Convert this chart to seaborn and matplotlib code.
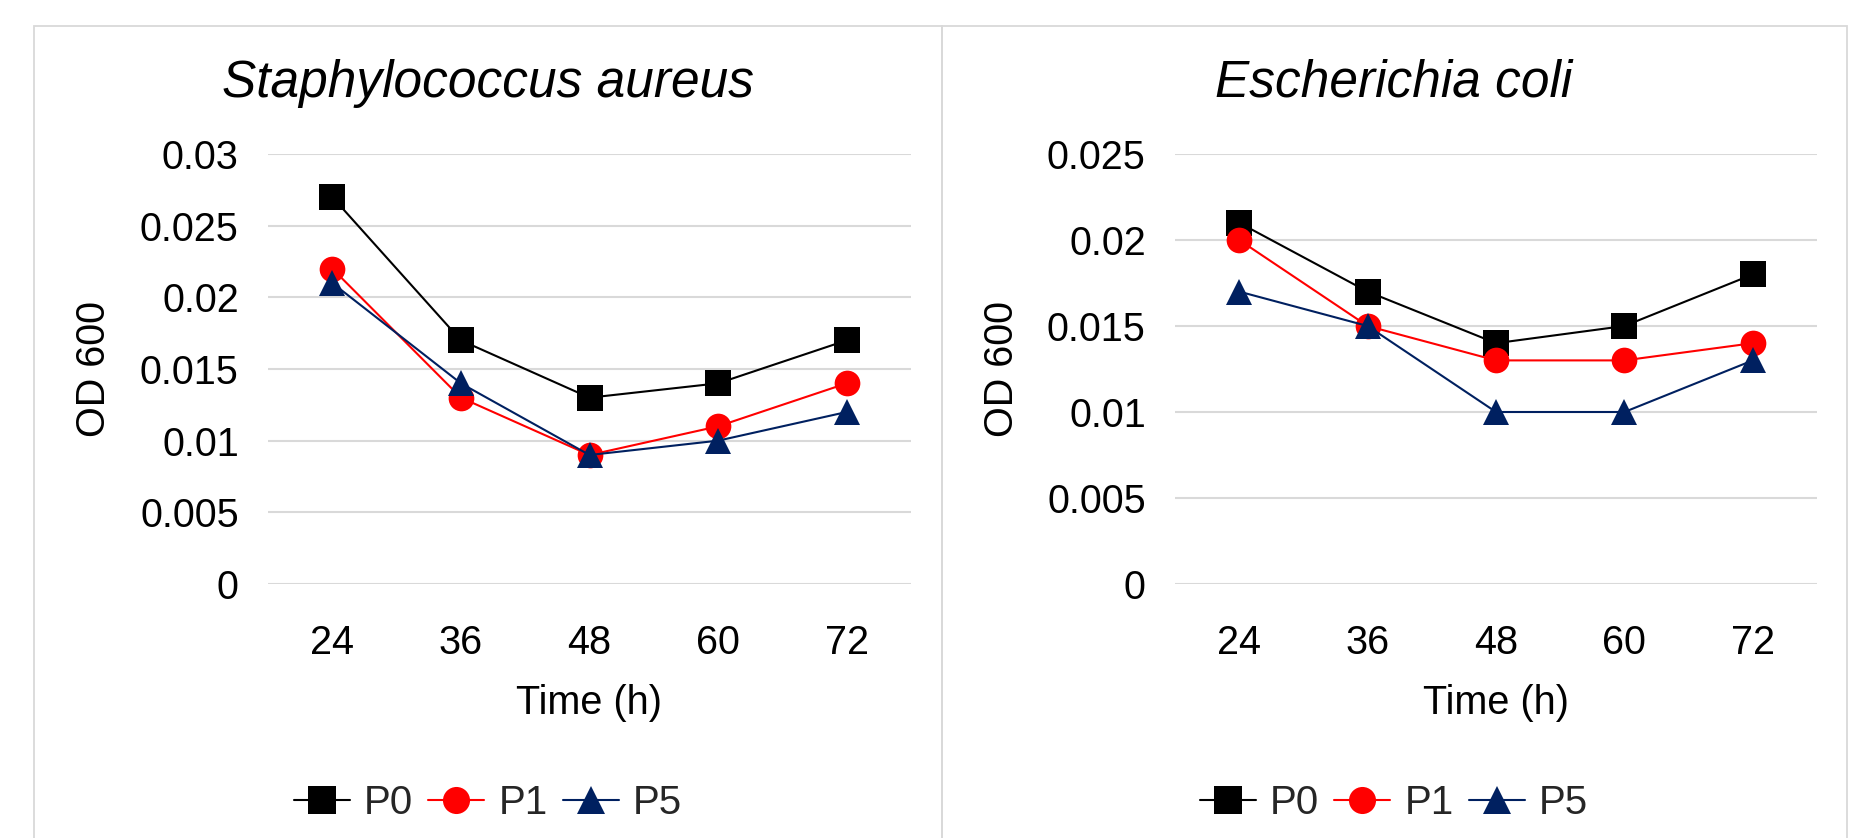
import matplotlib
matplotlib.use("Agg")
import matplotlib.pyplot as plt
import seaborn as sns
import pandas as pd
from matplotlib.lines import Line2D
from matplotlib.patches import Rectangle
from matplotlib.ticker import FuncFormatter, MultipleLocator

# ---- data ----
times = ["24", "36", "48", "60", "72"]
series_names = ["P0", "P1", "P5"]

sa_p0 = [0.027, 0.017, 0.013, 0.014, 0.017]
sa_p1 = [0.022, 0.013, 0.009, 0.011, 0.014]
sa_p5 = [0.021, 0.014, 0.009, 0.010, 0.012]

ec_p0 = [0.021, 0.017, 0.014, 0.015, 0.018]
ec_p1 = [0.020, 0.015, 0.013, 0.013, 0.014]
ec_p5 = [0.017, 0.015, 0.010, 0.010, 0.013]

panel_titles = ["Staphylococcus aureus", "Escherichia coli"]
y_max = [0.03, 0.025]
x_label = "Time (h)"
y_label = "OD 600"

colors = {"P0": "#000000", "P1": "#FF0000", "P5": "#002060"}
markers = {"P0": "s", "P1": "o", "P5": "^"}

sns.set_theme(style="white")
plt.rcParams["font.family"] = ["Liberation Sans", "DejaVu Sans"]

W, H = 1871, 838
fig = plt.figure(figsize=(W / 100, H / 100), dpi=100)
fig.patch.set_facecolor("white")

def fx(px):
    return px / W

def fy(py):
    return 1 - py / H

# panel frames
for x0, x1 in [(34, 942), (942, 1847)]:
    fig.patches.append(Rectangle((fx(x0), fy(900)), fx(x1) - fx(x0), fy(26) - fy(900),
                                 transform=fig.transFigure, fill=False,
                                 edgecolor="#D9D9D9", linewidth=1.3))

axes_px = [(268, 911), (1175, 1817)]
panel_centers = [488, 1394]
ylabel_px = [94, 1002]
data_sets = [[sa_p0, sa_p1, sa_p5], [ec_p0, ec_p1, ec_p5]]

fmt = FuncFormatter(lambda v, p: f"{v:g}" if abs(v) > 1e-12 else "0")
FS = 28.5

for i in range(2):
    l, r = axes_px[i]
    ax = fig.add_axes([fx(l), fy(584), fx(r) - fx(l), fy(154) - fy(584)])
    for name, vals in zip(series_names, data_sets[i]):
        df = pd.DataFrame({"time": times, "od": vals})
        sns.lineplot(data=df, x="time", y="od", ax=ax, color=colors[name],
                     marker=markers[name], markersize=18.5, markeredgewidth=0,
                     linewidth=1.5, sort=False)
    ax.set_xlim(-0.5, 4.5)
    ax.set_ylim(0, y_max[i])
    ax.yaxis.set_major_locator(MultipleLocator(0.005))
    ax.yaxis.set_major_formatter(fmt)
    ax.grid(axis="y", color="#D9D9D9", linewidth=1.5)
    ax.grid(axis="x", visible=False)
    ax.set_axisbelow(True)
    for s in ax.spines.values():
        s.set_visible(False)
    ax.tick_params(axis="both", length=0, labelsize=FS, colors="black")
    ax.tick_params(axis="x", pad=29)
    ax.tick_params(axis="y", pad=21)
    ax.set_xlabel(x_label, fontsize=FS, color="black")
    ax.set_ylabel(y_label, fontsize=FS, color="black")
    ax.xaxis.set_label_coords(0.5, -0.277)
    ax.xaxis.label.set_va("center")
    ax.yaxis.set_label_coords((ylabel_px[i] - l) / (r - l), 0.5)
    ax.yaxis.label.set_va("center")
    ax.set_facecolor("none")

    fig.text(fx(panel_centers[i]), fy(83), panel_titles[i], ha="center", va="center",
             fontsize=37, style="italic", color="black")

    handles = [Line2D([], [], color=colors[n], marker=markers[n], markersize=19.5,
                      markeredgewidth=0, linewidth=1.5) for n in series_names]
    fig.legend(handles, series_names, loc="center",
               bbox_to_anchor=(fx(panel_centers[i]), fy(803)), ncol=3, frameon=False,
               fontsize=29, handlelength=1.39, handletextpad=0.35, columnspacing=0.37,
               borderpad=0, borderaxespad=0)

fig.savefig("out.png", dpi=100, facecolor="white")
